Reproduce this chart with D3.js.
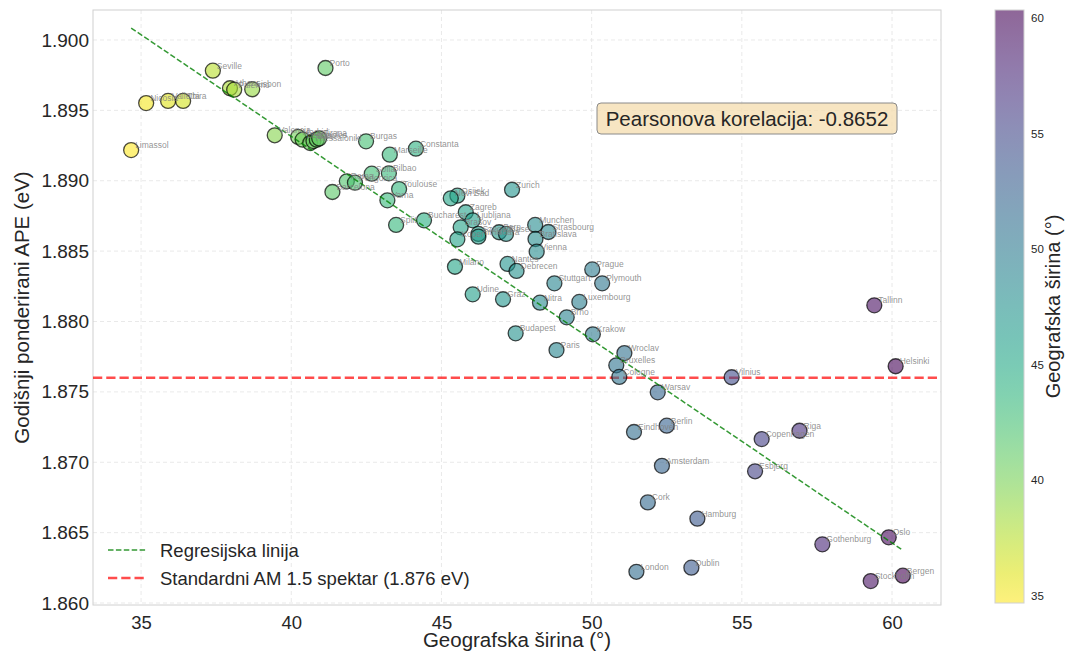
<!DOCTYPE html>
<html>
<head>
<meta charset="utf-8">
<script src="https://cdn.jsdelivr.net/npm/d3@7"></script>
<style>
  html, body { margin: 0; padding: 0; background: #fff; }
  svg { display: block; font-family: "Liberation Sans", Arial, sans-serif; }
</style>
</head>
<body>
<svg id="chart" width="1067" height="655"></svg>
<script>
// City names, latitude (°) and annual weighted APE (eV)
const cities = [
  "Limassol", "Nicosia", "Valletta", "Thira", "Seville", "Athens", "Palermo", "Lisbon",
  "Porto", "Valencia", "Madrid", "Lecce", "Thessaloniki", "Bari", "Naples", "Tirana",
  "Burgas", "Constanta", "Marseille", "Sofia", "Bilbao", "Roma", "Podgorica", "Barcelona",
  "Toulouse", "Varna", "Split", "Bucharest", "Osijek", "Novi Sad", "Zagreb", "Ljubljana",
  "Brasov", "Koper", "Szeged", "Timisoara", "Bern", "Basel", "Zurich", "Munchen",
  "Strasbourg", "Bratislava", "Vienna", "Milano", "Nantes", "Debrecen", "Stuttgart", "Prague",
  "Plymouth", "Udine", "Graz", "Nitra", "Luxembourg", "Brno", "Budapest", "Krakow",
  "Paris", "Wroclav", "Bruxelles", "Cologne", "Warsav", "Vilnius", "Eindhoven", "Berlin",
  "Amsterdam", "Copenhagen", "Riga", "Esbjerg", "Tallinn", "Helsinki", "Cork", "Hamburg",
  "London", "Dublin", "Gothenburg", "Oslo", "Stockholm", "Bergen"
];
const latitudes = [
  34.67, 35.17, 35.90, 36.40, 37.39, 37.96, 38.10, 38.70,
  41.14, 39.45, 40.23, 40.38, 40.63, 40.74, 40.85, 40.93,
  42.49, 44.15, 43.28, 42.68, 43.25, 41.85, 42.12, 41.37,
  43.59, 43.20, 43.49, 44.42, 45.53, 45.31, 45.81, 46.04,
  45.64, 45.53, 46.23, 46.23, 46.92, 47.15, 47.35, 48.12,
  48.56, 48.13, 48.17, 45.45, 47.20, 47.50, 48.76, 50.02,
  50.35, 46.04, 47.05, 48.28, 49.59, 49.17, 47.47, 50.04,
  48.83, 51.09, 50.82, 50.92, 52.20, 54.66, 51.41, 52.50,
  52.34, 55.66, 56.92, 55.44, 59.41, 60.12, 51.87, 53.52,
  51.49, 53.32, 57.68, 59.89, 59.29, 60.36
];
const apeValues = [
  1.89218, 1.89552, 1.89567, 1.89567, 1.89782, 1.89657, 1.89647, 1.89650,
  1.89801, 1.89323, 1.89311, 1.89292, 1.89268, 1.89282, 1.89292, 1.89301,
  1.89280, 1.89228, 1.89185, 1.89050, 1.89053, 1.88996, 1.88986, 1.88920,
  1.88941, 1.88861, 1.88686, 1.88719, 1.88894, 1.88875, 1.88776, 1.88719,
  1.88669, 1.88584, 1.88622, 1.88603, 1.88634, 1.88622, 1.88936, 1.88686,
  1.88636, 1.88586, 1.88496, 1.88389, 1.88409, 1.88359, 1.88271, 1.88370,
  1.88271, 1.88193, 1.88158, 1.88134, 1.88139, 1.88030, 1.87916, 1.87909,
  1.87797, 1.87776, 1.87689, 1.87606, 1.87497, 1.87604, 1.87215, 1.87260,
  1.86975, 1.87165, 1.87224, 1.86936, 1.88115, 1.87682, 1.86715, 1.86599,
  1.86222, 1.86251, 1.86417, 1.86467, 1.86156, 1.86194
];
const xTicks = [35, 40, 45, 50, 55, 60];
const yTicks = [1.860, 1.865, 1.870, 1.875, 1.880, 1.885, 1.890, 1.895, 1.900];
const colorbarTicks = [35, 40, 45, 50, 55, 60];
const referenceAPE = 1.876;
// Fitted regression line: APE = regressionIntercept + regressionSlope * latitude
const regressionSlope = -0.0014442;
const regressionIntercept = 1.95092;
const correlationText = "Pearsonova korelacija: -0.8652";
const legendLabels = ["Regresijska linija", "Standardni AM 1.5 spektar (1.876 eV)"];
const xLabel = "Geografska širina (°)";
const yLabel = "Godišnji ponderirani APE (eV)";
const colorbarLabel = "Geografska širina (°)";

const points = cities.map((c, i) => ({ city: c, lat: latitudes[i], ape: apeValues[i] }));

const svg = d3.select("#chart");
const plot = { left: 93, top: 10, right: 941, bottom: 605 };

const x = d3.scaleLinear().domain([33.4, 61.63]).range([plot.left, plot.right]);
const y = d3.scaleLinear().domain([1.85986, 1.90213]).range([plot.bottom, plot.top]);

const latExtent = d3.extent(latitudes);
const colorOf = v => d3.interpolateViridis(1 - (v - latExtent[0]) / (latExtent[1] - latExtent[0]));
const markAlpha = 0.6;

// Grid
const grid = svg.append("g");
grid.selectAll("line.gx").data(xTicks).join("line")
  .attr("x1", d => x(d)).attr("x2", d => x(d))
  .attr("y1", plot.top).attr("y2", plot.bottom)
  .attr("stroke", "#e3e3e3").attr("stroke-width", 0.8).attr("stroke-dasharray", "4,3");
grid.selectAll("line.gy").data(yTicks).join("line")
  .attr("x1", plot.left).attr("x2", plot.right)
  .attr("y1", d => y(d)).attr("y2", d => y(d))
  .attr("stroke", "#e3e3e3").attr("stroke-width", 0.8).attr("stroke-dasharray", "4,3");

// Frame
svg.append("rect")
  .attr("x", plot.left).attr("y", plot.top)
  .attr("width", plot.right - plot.left).attr("height", plot.bottom - plot.top)
  .attr("fill", "none").attr("stroke", "#d0d0d0").attr("stroke-width", 1);

// Axes (labels only, no tick marks)
const xAxis = svg.append("g").attr("transform", `translate(0,${plot.bottom})`)
  .call(d3.axisBottom(x).tickValues(xTicks).tickSize(0).tickPadding(11).tickFormat(d3.format("d")));
xAxis.select(".domain").remove();
xAxis.selectAll("text").attr("font-size", 18.5).attr("fill", "#262626")
  .attr("font-family", "Liberation Sans, Arial, sans-serif");

const yAxis = svg.append("g").attr("transform", `translate(${plot.left},0)`)
  .call(d3.axisLeft(y).tickValues(yTicks).tickSize(0).tickPadding(4).tickFormat(d3.format(".3f")));
yAxis.select(".domain").remove();
yAxis.selectAll("text").attr("font-size", 19).attr("fill", "#262626")
  .attr("font-family", "Liberation Sans, Arial, sans-serif");

// Axis titles
svg.append("text").attr("x", (plot.left + plot.right) / 2).attr("y", 647)
  .attr("text-anchor", "middle").attr("font-size", 20.5).attr("fill", "#262626").text(xLabel);
svg.append("text").attr("transform", `translate(29,${(plot.top + plot.bottom) / 2}) rotate(-90)`)
  .attr("text-anchor", "middle").attr("font-size", 20.5).attr("fill", "#262626").text(yLabel);

// Reference spectrum line
const redDash = "9.25,4";
svg.append("line")
  .attr("x1", plot.left).attr("x2", plot.right)
  .attr("y1", y(referenceAPE)).attr("y2", y(referenceAPE))
  .attr("stroke", "#ff0000").attr("stroke-opacity", 0.7)
  .attr("stroke-width", 2.5).attr("stroke-dasharray", redDash);

// Scatter
svg.append("g").selectAll("circle").data(points).join("circle")
  .attr("cx", d => x(d.lat)).attr("cy", d => y(d.ape)).attr("r", 7.5)
  .attr("fill", d => colorOf(d.lat)).attr("fill-opacity", markAlpha)
  .attr("stroke", "#000").attr("stroke-opacity", 0.7).attr("stroke-width", 1.3);

// Regression line across the latitude range
const greenDash = "5.5,2.4";
const fit = v => regressionIntercept + regressionSlope * v;
svg.append("line")
  .attr("x1", x(latExtent[0])).attr("y1", y(fit(latExtent[0])))
  .attr("x2", x(latExtent[1])).attr("y2", y(fit(latExtent[1])))
  .attr("stroke", "#008000").attr("stroke-opacity", 0.8)
  .attr("stroke-width", 1.5).attr("stroke-dasharray", greenDash);

// City labels
svg.append("g").selectAll("text").data(points).join("text")
  .attr("x", d => x(d.lat) + 4).attr("y", d => y(d.ape) - 2)
  .attr("font-size", 8.5).attr("fill", "#808080").attr("fill-opacity", 0.85)
  .text(d => d.city);

// Correlation box
const box = svg.append("g");
box.append("rect").attr("x", 597).attr("y", 103).attr("width", 300).attr("height", 31).attr("rx", 4)
  .attr("fill", "#f5deb3").attr("fill-opacity", 0.8).attr("stroke", "#8a8a8a").attr("stroke-width", 1);
box.append("text").attr("x", 747).attr("y", 125.5).attr("text-anchor", "middle")
  .attr("font-size", 20.5).attr("fill", "#262626").text(correlationText);

// Legend
const legend = svg.append("g");
const legendItems = [
  { label: legendLabels[0], color: "#008000", opacity: 0.8, width: 1.5, dash: greenDash, yy: 550 },
  { label: legendLabels[1], color: "#ff0000", opacity: 0.7, width: 2.5, dash: redDash, yy: 578 }
];
legendItems.forEach(it => {
  legend.append("line").attr("x1", 108).attr("x2", 147).attr("y1", it.yy).attr("y2", it.yy)
    .attr("stroke", it.color).attr("stroke-opacity", it.opacity)
    .attr("stroke-width", it.width).attr("stroke-dasharray", it.dash);
  legend.append("text").attr("x", 160).attr("y", it.yy + 6.5)
    .attr("font-size", 18.5).attr("fill", "#262626").text(it.label);
});

// Colorbar
const cb = { x: 995, width: 29, top: 10, bottom: 603 };
const cbScale = d3.scaleLinear().domain(latExtent).range([cb.bottom, cb.top]);
const defs = svg.append("defs");
const grad = defs.append("linearGradient").attr("id", "cbgrad")
  .attr("x1", 0).attr("y1", 1).attr("x2", 0).attr("y2", 0);
d3.range(0, 1.0001, 0.05).forEach(t => {
  grad.append("stop").attr("offset", t)
    .attr("stop-color", d3.interpolateViridis(1 - t)).attr("stop-opacity", markAlpha);
});
svg.append("rect").attr("x", cb.x).attr("y", cb.top).attr("width", cb.width)
  .attr("height", cb.bottom - cb.top).attr("fill", "url(#cbgrad)")
  .attr("stroke", "#d0d0d0").attr("stroke-width", 1);
const cbAxis = svg.append("g").attr("transform", `translate(${cb.x + cb.width},0)`)
  .call(d3.axisRight(cbScale).tickValues(colorbarTicks).tickSize(0).tickPadding(7).tickFormat(d3.format("d")));
cbAxis.select(".domain").remove();
cbAxis.selectAll("text").attr("font-size", 11.5).attr("fill", "#262626")
  .attr("font-family", "Liberation Sans, Arial, sans-serif");
svg.append("text").attr("transform", `translate(1060,${(cb.top + cb.bottom) / 2}) rotate(-90)`)
  .attr("text-anchor", "middle").attr("font-size", 20).attr("fill", "#262626").text(colorbarLabel);
</script>
</body>
</html>
